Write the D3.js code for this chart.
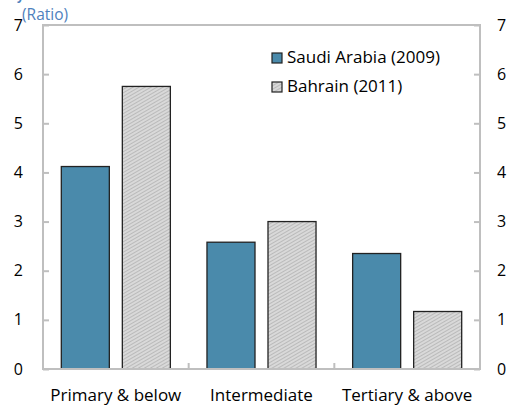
<!DOCTYPE html>
<html>
<head>
<meta charset="utf-8">
<script src="https://cdn.jsdelivr.net/npm/d3@7"></script>
<style>
  body { margin: 0; background: #fff; }
  svg text { font-family: "Open Sans", "Noto Sans", sans-serif; fill: #000; }
</style>
</head>
<body>
<div id="chart"></div>
<script>
// Data
const categories = ["Primary & below", "Intermediate", "Tertiary & above"];
const seriesNames = ["Saudi Arabia (2009)", "Bahrain (2011)"];
const saudi = [4.12, 2.58, 2.35];
const bahrain = [5.75, 3.0, 1.17];
const yTicks = [0, 1, 2, 3, 4, 5, 6, 7];

const width = 519, height = 407;
const margin = { top: 25, right: 39, bottom: 38, left: 43 };

const svg = d3.select("#chart").append("svg")
    .attr("width", width)
    .attr("height", height);

// hatch pattern for Bahrain bars
const defs = svg.append("defs");
const pat = defs.append("pattern")
    .attr("id", "hatch")
    .attr("patternUnits", "userSpaceOnUse")
    .attr("width", 3).attr("height", 3)
    .attr("patternTransform", "rotate(60)");
pat.append("rect").attr("width", 3).attr("height", 3).attr("fill", "#d9d9d9");
pat.append("line").attr("x1", 0).attr("y1", 0).attr("x2", 0).attr("y2", 3)
    .attr("stroke", "#a6a6a6").attr("stroke-width", 1.2);

const x0 = d3.scaleBand()
    .domain(categories)
    .range([margin.left, width - margin.right]);

const x1 = d3.scaleBand()
    .domain(seriesNames)
    .range([0, x0.bandwidth()])
    .paddingInner(0.213)
    .paddingOuter(0.3);

const y = d3.scaleLinear()
    .domain([0, 7])
    .range([height - margin.bottom, margin.top]);

const axisColor = "#bfbfbf";

// bars
const rows = categories.map((c, i) => ({ cat: c, vals: [saudi[i], bahrain[i]] }));
const fills = ["#4a8aab", "url(#hatch)"];

const g = svg.selectAll(".grp")
    .data(rows)
    .enter().append("g")
    .attr("transform", d => `translate(${x0(d.cat)},0)`);

g.selectAll("rect")
    .data(d => d.vals.map((v, j) => ({ name: seriesNames[j], v: v, j: j })))
    .enter().append("rect")
    .attr("x", d => x1(d.name))
    .attr("y", d => y(d.v))
    .attr("width", x1.bandwidth())
    .attr("height", d => y(0) - y(d.v))
    .attr("fill", d => fills[d.j])
    .attr("stroke", "#222")
    .attr("stroke-width", 1.3);

// frame
svg.append("rect")
    .attr("x", margin.left)
    .attr("y", margin.top)
    .attr("width", width - margin.left - margin.right)
    .attr("height", height - margin.top - margin.bottom)
    .attr("fill", "none")
    .attr("stroke", axisColor)
    .attr("stroke-width", 2);

// left axis
const left = svg.append("g")
    .attr("transform", `translate(${margin.left},0)`)
    .call(d3.axisLeft(y).tickValues(yTicks).tickSize(-6).tickPadding(20).tickFormat(d3.format("d")));
// right axis
const right = svg.append("g")
    .attr("transform", `translate(${width - margin.right},0)`)
    .call(d3.axisRight(y).tickValues(yTicks).tickSize(-6).tickPadding(17).tickFormat(d3.format("d")));

[left, right].forEach(a => {
    a.select(".domain").remove();
    a.selectAll(".tick line").attr("stroke", axisColor).attr("stroke-width", 2);
    a.selectAll(".tick text").style("font-size", "16px").attr("fill", "#000");
});

// category separators on bottom axis
svg.selectAll(".sep")
    .data(categories.slice(1))
    .enter().append("line")
    .attr("x1", d => x0(d)).attr("x2", d => x0(d))
    .attr("y1", y(0)).attr("y2", y(0) - 6)
    .attr("stroke", axisColor).attr("stroke-width", 2);

// category labels
svg.selectAll(".catlabel")
    .data(categories)
    .enter().append("text")
    .attr("x", d => x0(d) + x0.bandwidth() / 2)
    .attr("y", y(0) + 32)
    .attr("text-anchor", "middle")
    .style("font-size", "17px")
    .text(d => d);

// unit label
svg.append("text")
    .attr("x", 22).attr("y", 20)
    .style("font-size", "15.5px")
    .style("fill", "#4f81bd")
    .text("(Ratio)");

// cut-off title fragment at top
svg.append("text")
    .attr("x", 17).attr("y", 0)
    .style("font-size", "12px")
    .style("font-weight", "bold")
    .style("fill", "#4f81bd")
    .text("y");

// legend
const legend = svg.selectAll(".leg")
    .data(seriesNames)
    .enter().append("g")
    .attr("transform", (d, i) => `translate(272,${53 + i * 29})`);

legend.append("rect")
    .attr("width", 10).attr("height", 10)
    .attr("fill", (d, i) => fills[i])
    .attr("stroke", "#222").attr("stroke-width", 1.2);

legend.append("text")
    .attr("x", 15).attr("y", 10)
    .style("font-size", "17px")
    .text(d => d);
</script>
</body>
</html>
